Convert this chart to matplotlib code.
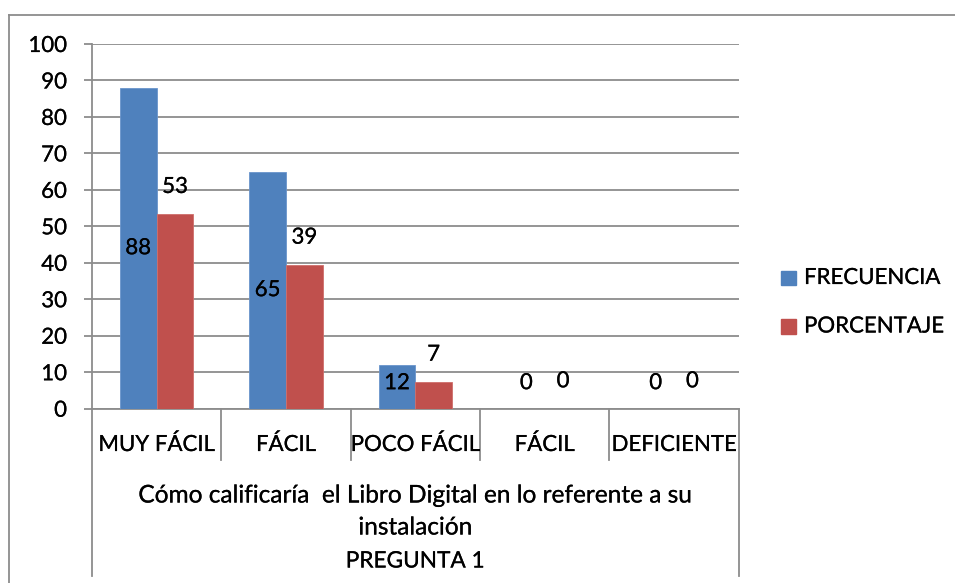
import matplotlib
matplotlib.use("Agg")
import matplotlib.pyplot as plt
import matplotlib.transforms as mtransforms
import matplotlib.patheffects as pe
from matplotlib.lines import Line2D
from matplotlib.patches import Rectangle
import numpy as np

categories = ["MUY FÁCIL", "FÁCIL", "POCO FÁCIL", "FÁCIL", "DEFICIENTE"]
frecuencia = [88, 65, 12, 0, 0]
porcentaje = [53.3, 39.4, 7.3, 0, 0]
porcentaje_labels = ["53", "39", "7", "0", "0"]
frecuencia_labels = ["88", "65", "12", "0", "0"]
series_names = ["FRECUENCIA", "PORCENTAJE"]
group_title = ["Cómo calificaría  el Libro Digital en lo referente a su",
               "instalación",
               "PREGUNTA 1"]
yticks = list(range(0, 101, 10))

BLUE = "#4F81BD"
RED = "#C0504D"
GRID = "#8C8C8C"
FONT = "Lato"
FS = 16
STROKE = [pe.withStroke(linewidth=0.15, foreground="black")]

W, H = 955, 583
plt.rcParams['font.family'] = [FONT, 'DejaVu Sans']
fig = plt.figure(figsize=(W / 100, H / 100), dpi=100)

# plot area in pixels
L, R, T, B = 92, 738.7, 44, 408.7
ax = fig.add_axes([L / W, 1 - B / H, (R - L) / W, (B - T) / H])
ax_h = B - T

x = np.arange(len(categories))
bw = 0.284
ax.bar(x - bw / 2, frecuencia, bw, color=BLUE, edgecolor="#6a95cc", linewidth=0.6, zorder=3)
ax.bar(x + bw / 2, porcentaje, bw, color=RED, edgecolor="#cf6e6b", linewidth=0.6, zorder=3)

ax.set_xlim(-0.5, len(categories) - 0.5)
ax.set_ylim(0, 100)
ax.set_yticks(yticks)
ax.set_yticklabels([str(t) for t in yticks], fontsize=FS, color="black")
for t in ax.get_yticklabels():
    t.set_path_effects(STROKE)
ax.set_xticks([])
ax.tick_params(axis="y", direction="out", length=6, width=1.3, color=GRID, pad=12)
ax.yaxis.grid(True, color=GRID, linewidth=1.3, zorder=0)
for s in ["top", "right"]:
    ax.spines[s].set_visible(False)
for s in ["left", "bottom"]:
    ax.spines[s].set_color(GRID)
    ax.spines[s].set_linewidth(1.3)
ax.set_axisbelow(True)

# data labels
for i in range(len(categories)):
    ax.text(x[i] - bw / 2, max(frecuencia[i] / 2, 7), frecuencia_labels[i],
            ha="center", va="center", fontsize=FS, zorder=5, path_effects=STROKE)
    ax.text(x[i] + bw / 2, porcentaje[i] + 7.5, porcentaje_labels[i],
            ha="center", va="center", fontsize=FS, zorder=5, path_effects=STROKE)

# multi-level category axis
trans = mtransforms.blended_transform_factory(ax.transData, ax.transAxes)
short = -(460 - B) / ax_h
full = -(576 - B) / ax_h
n = len(categories)
for k in range(n + 1):
    xb = k - 0.5
    y1 = full if k in (0, n) else short
    ax.add_line(Line2D([xb, xb], [0, y1], transform=trans, color=GRID,
                       linewidth=1.3, clip_on=False))
for i, c in enumerate(categories):
    ax.text(i, -(445 - B) / ax_h, c, transform=trans, ha="center", va="center",
            fontsize=FS, clip_on=False, path_effects=STROKE)
line_y = [496, 528, 561]
line_fs = [17.6, 17.6, 16.3]
for ln, yy, fs in zip(group_title, line_y, line_fs):
    ax.text((n - 1) / 2, -(yy - B) / ax_h, ln, transform=trans, ha="center",
            va="center", fontsize=fs, clip_on=False, path_effects=STROKE)

# legend (manual layout matching reference)
leg_items = [(series_names[0], BLUE, 278), (series_names[1], RED, 326.5)]
for name, col, yc in leg_items:
    fig.patches.append(Rectangle((781 / W, 1 - (yc + 7.3) / H), 14.7 / W, 14.6 / H,
                                 transform=fig.transFigure, color=col))
    fig.text(804 / W, 1 - yc / H, name, ha="left", va="center", fontsize=FS,
             path_effects=STROKE)

# outer chart border (top and left only visible)
fig.add_artist(Line2D([9 / W, 1.0], [1 - 15 / H, 1 - 15 / H], transform=fig.transFigure,
                      color=GRID, linewidth=1.3))
fig.add_artist(Line2D([9 / W, 9 / W], [1 - 15 / H, 0], transform=fig.transFigure,
                      color=GRID, linewidth=1.3))

fig.savefig("out.png", dpi=100)
